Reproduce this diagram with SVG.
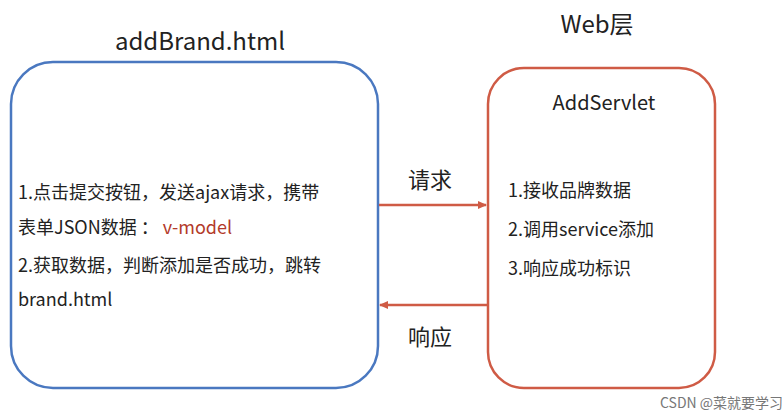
<svg xmlns="http://www.w3.org/2000/svg" width="782" height="417" viewBox="0 0 782 417">
<style>
text{font-family:"Noto Sans CJK SC","Noto Sans",sans-serif;fill:#222}
.t{font-size:18px}
.h{font-size:24px}
.c{stroke:#cf5b45;stroke-width:2.5;fill:none}
</style>
<defs><marker id="a" markerWidth="10" markerHeight="10" refX="8" refY="5" orient="auto" markerUnits="userSpaceOnUse"><path d="M0,1 L9,5 L0,9z" fill="#cf5b45"/></marker></defs>
<rect width="782" height="417" fill="#fff"/>
<g id="left">
<rect x="11" y="62" width="367" height="326" rx="42" fill="none" stroke="#4a78c0" stroke-width="2.5"/>
<text x="200" y="50" class="h" text-anchor="middle">addBrand.html</text>
<text x="18" y="199" class="t">1.点击提交按钮，发送ajax请求，携带</text>
<text x="18" y="234" class="t">表单JSON数据 ： <tspan style="fill:#b33a2a">v-model</tspan></text>
<text x="18" y="272" class="t">2.获取数据，判断添加是否成功，跳转</text>
<text x="18" y="306" class="t">brand.html</text>
</g>
<g id="right">
<rect x="488" y="68" width="227" height="320" rx="36" fill="none" stroke="#cf5b45" stroke-width="2.5"/>
<text x="597" y="33" class="h" text-anchor="middle">Web层</text>
<text x="604" y="110" font-size="20" text-anchor="middle">AddServlet</text>
<text x="508" y="197" class="t">1.接收品牌数据</text>
<text x="508" y="236" class="t">2.调用service添加</text>
<text x="508" y="275" class="t">3.响应成功标识</text>
</g>
<g id="connectors">
<line x1="379" y1="205" x2="486" y2="205" class="c" marker-end="url(#a)"/>
<text x="430" y="188" font-size="22" text-anchor="middle">请求</text>
<line x1="487" y1="305" x2="380" y2="305" class="c" marker-end="url(#a)"/>
<text x="430" y="345" font-size="22" text-anchor="middle">响应</text>
</g>
<text x="660" y="408" font-size="14" style="fill:#777">CSDN @菜就要学习</text>
</svg>
